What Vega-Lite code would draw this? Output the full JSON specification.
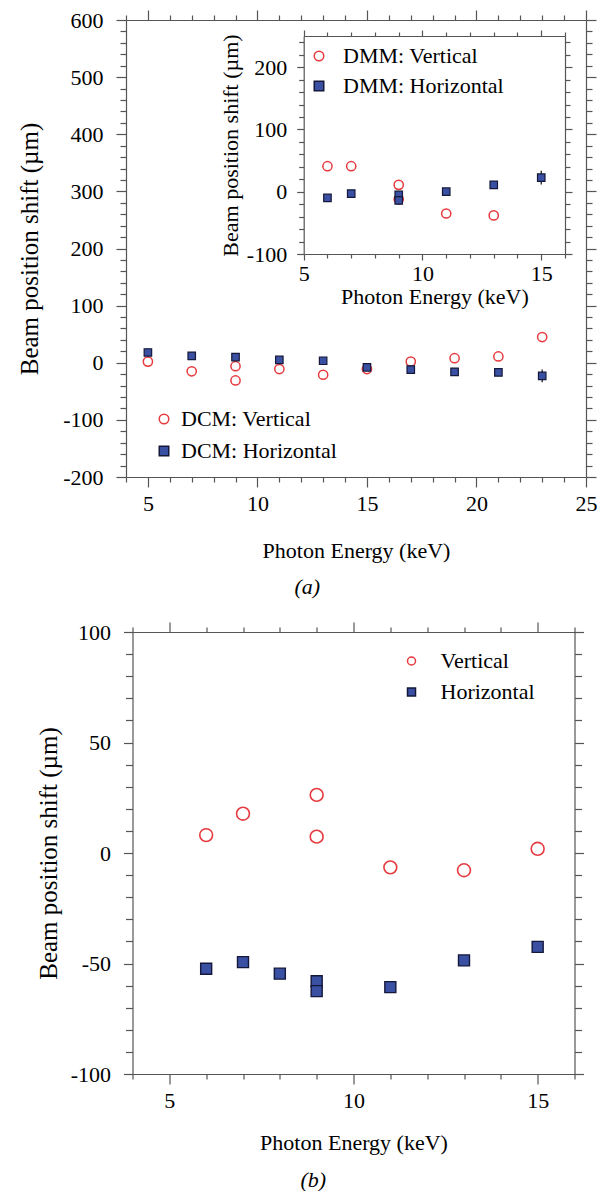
{
  "$schema": "https://vega.github.io/schema/vega-lite/v6.json",
  "padding": {"left": 17, "top": 9, "right": 5, "bottom": 0},
  "background": "white",
  "spacing": 23,
  "center": true,
  "resolve": {
    "scale": {"shape": "independent", "fill": "independent", "stroke": "independent"},
    "legend": {"shape": "independent", "fill": "independent", "stroke": "independent"}
  },
  "config": {
    "view": {"stroke": null},
    "font": "Liberation Serif",
    "axis": {"labelFont": "Liberation Serif", "labelFontSize": 22, "titleFont": "Liberation Serif", "titleFontSize": 22, "titleFontWeight": "normal", "labelColor": "#000", "titleColor": "#000", "domainColor": "#555", "tickColor": "#555", "domainWidth": 1.2, "tickWidth": 1.2, "grid": false, "labelFlush": false, "labelOverlap": false, "labelBound": false},
    "legend": {"labelFont": "Liberation Serif", "labelFontSize": 22, "labelColor": "#000", "symbolStrokeWidth": 1.5, "symbolOpacity": 1, "padding": 0, "labelLimit": 0},
    "title": {"font": "Liberation Serif", "fontSize": 22, "fontWeight": "normal", "color": "#000"}
  },
  "datasets": {
    "dcm": [
      {"E": 5, "v": 2, "s": "DCM: Vertical"},
      {"E": 7, "v": -15, "s": "DCM: Vertical"},
      {"E": 9, "v": -6, "s": "DCM: Vertical"},
      {"E": 9, "v": -31, "s": "DCM: Vertical"},
      {"E": 11, "v": -11, "s": "DCM: Vertical"},
      {"E": 13, "v": -21, "s": "DCM: Vertical"},
      {"E": 15, "v": -11, "s": "DCM: Vertical"},
      {"E": 17, "v": 2, "s": "DCM: Vertical"},
      {"E": 19, "v": 8, "s": "DCM: Vertical"},
      {"E": 21, "v": 11, "s": "DCM: Vertical"},
      {"E": 23, "v": 45, "s": "DCM: Vertical"},
      {"E": 5, "v": 18, "s": "DCM: Horizontal", "err": 7},
      {"E": 7, "v": 12, "s": "DCM: Horizontal"},
      {"E": 9, "v": 10, "s": "DCM: Horizontal"},
      {"E": 11, "v": 5, "s": "DCM: Horizontal"},
      {"E": 13, "v": 3.5, "s": "DCM: Horizontal"},
      {"E": 15, "v": -8, "s": "DCM: Horizontal"},
      {"E": 17, "v": -12, "s": "DCM: Horizontal"},
      {"E": 19, "v": -16, "s": "DCM: Horizontal"},
      {"E": 21, "v": -17, "s": "DCM: Horizontal"},
      {"E": 23, "v": -23, "s": "DCM: Horizontal", "err": 11}
    ],
    "dmm": [
      {"E": 6, "v": 41, "s": "DMM: Vertical"},
      {"E": 7, "v": 41, "s": "DMM: Vertical"},
      {"E": 9, "v": 11, "s": "DMM: Vertical"},
      {"E": 9, "v": -12, "s": "DMM: Vertical"},
      {"E": 11, "v": -35, "s": "DMM: Vertical"},
      {"E": 13, "v": -38, "s": "DMM: Vertical"},
      {"E": 6, "v": -10, "s": "DMM: Horizontal", "err": 5},
      {"E": 7, "v": -3, "s": "DMM: Horizontal"},
      {"E": 9, "v": -5, "s": "DMM: Horizontal"},
      {"E": 9, "v": -14, "s": "DMM: Horizontal", "err": 7},
      {"E": 11, "v": 0, "s": "DMM: Horizontal"},
      {"E": 13, "v": 11, "s": "DMM: Horizontal"},
      {"E": 15, "v": 22.5, "s": "DMM: Horizontal", "err": 11}
    ],
    "b": [
      {"E": 6, "v": 8.1, "s": "Vertical"},
      {"E": 7, "v": 17.8, "s": "Vertical"},
      {"E": 9, "v": 26.3, "s": "Vertical"},
      {"E": 9, "v": 7.4, "s": "Vertical"},
      {"E": 11, "v": -6.5, "s": "Vertical"},
      {"E": 13, "v": -7.8, "s": "Vertical"},
      {"E": 15, "v": 1.9, "s": "Vertical"},
      {"E": 6, "v": -52.4, "s": "Horizontal"},
      {"E": 7, "v": -49.4, "s": "Horizontal"},
      {"E": 8, "v": -54.6, "s": "Horizontal"},
      {"E": 9, "v": -58, "s": "Horizontal"},
      {"E": 9, "v": -62.5, "s": "Horizontal"},
      {"E": 11, "v": -60.7, "s": "Horizontal"},
      {"E": 13, "v": -48.6, "s": "Horizontal"},
      {"E": 15, "v": -42.5, "s": "Horizontal"}
    ]
  },
  "vconcat": [
    {
      "width": 460,
      "height": 457,
      "title": {"text": "(a)", "orient": "bottom", "anchor": "middle", "frame": "bounds", "fontStyle": "italic", "offset": 16},
      "layer": [
        {
          "data": {"name": "dcm"},
          "layer": [
            {
              "transform": [{"filter": "datum.err > 0"}],
              "mark": {"type": "errorbar", "color": "#222", "thickness": 1.3},
              "encoding": {
                "x": {"field": "E", "type": "quantitative", "scale": {"domain": [4, 25], "nice": false, "zero": false}, "axis": null},
                "y": {"field": "v", "type": "quantitative", "scale": {"domain": [-200, 600], "nice": false, "zero": false}, "axis": null},
                "yError": {"field": "err"}
              }
            },
            {
              "transform": [{"filter": {"field": "s", "equal": "DCM: Vertical"}}],
              "mark": {"type": "point", "filled": true, "opacity": 1, "size": 85, "strokeWidth": 1.5},
              "encoding": {
                "x": {"field": "E", "type": "quantitative", "scale": {"domain": [4, 25], "nice": false, "zero": false}, "axis": {"orient": "bottom", "values": [5, 10, 15, 20, 25], "tickSize": 10, "labelPadding": 6, "title": "Photon Energy (keV)", "titlePadding": 26}},
                "y": {"field": "v", "type": "quantitative", "scale": {"domain": [-200, 600], "nice": false, "zero": false}, "axis": {"orient": "left", "values": [-200, -100, 0, 100, 200, 300, 400, 500, 600], "tickSize": 10, "labelPadding": 13, "labelExpr": "datum.value", "title": "Beam position shift (µm)", "titleFontSize": 25, "titlePadding": 20}},
                "shape": {"field": "s", "type": "nominal", "scale": {"domain": ["DCM: Vertical", "DCM: Horizontal"], "range": ["circle", "square"]}, "legend": {"orient": "none", "legendX": 27, "legendY": 388, "title": null, "symbolSize": 90, "labelOffset": 6, "rowPadding": 10}},
                "fill": {"field": "s", "type": "nominal", "scale": {"domain": ["DCM: Vertical", "DCM: Horizontal"], "range": ["#ffffff", "#3a50a2"]}, "legend": {"orient": "none", "legendX": 27, "legendY": 388, "title": null, "symbolSize": 90, "labelOffset": 6, "rowPadding": 10}},
                "stroke": {"field": "s", "type": "nominal", "scale": {"domain": ["DCM: Vertical", "DCM: Horizontal"], "range": ["#e63a3f", "#15183a"]}, "legend": {"orient": "none", "legendX": 27, "legendY": 388, "title": null, "symbolSize": 90, "labelOffset": 6, "rowPadding": 10}}
              }
            },
            {
              "transform": [{"filter": {"field": "s", "equal": "DCM: Horizontal"}}],
              "mark": {"type": "point", "filled": true, "opacity": 1, "size": 56, "strokeWidth": 1.2},
              "encoding": {
                "x": {"field": "E", "type": "quantitative", "scale": {"domain": [4, 25], "nice": false, "zero": false}, "axis": {"orient": "top", "values": [5, 10, 15, 20, 25], "tickSize": 10, "labels": false, "title": null}},
                "y": {"field": "v", "type": "quantitative", "scale": {"domain": [-200, 600], "nice": false, "zero": false}, "axis": {"orient": "right", "values": [-200, -100, 0, 100, 200, 300, 400, 500, 600], "tickSize": 10, "labels": false, "title": null}},
                "shape": {"field": "s", "type": "nominal", "scale": {"domain": ["DCM: Vertical", "DCM: Horizontal"], "range": ["circle", "square"]}, "legend": {"orient": "none", "legendX": 27, "legendY": 388, "title": null, "symbolSize": 90, "labelOffset": 6, "rowPadding": 10}},
                "fill": {"field": "s", "type": "nominal", "scale": {"domain": ["DCM: Vertical", "DCM: Horizontal"], "range": ["#ffffff", "#3a50a2"]}, "legend": {"orient": "none", "legendX": 27, "legendY": 388, "title": null, "symbolSize": 90, "labelOffset": 6, "rowPadding": 10}},
                "stroke": {"field": "s", "type": "nominal", "scale": {"domain": ["DCM: Vertical", "DCM: Horizontal"], "range": ["#e63a3f", "#15183a"]}, "legend": {"orient": "none", "legendX": 27, "legendY": 388, "title": null, "symbolSize": 90, "labelOffset": 6, "rowPadding": 10}}
              }
            },
            {
              "mark": {"type": "point", "opacity": 0},
              "encoding": {
                "x": {"field": "E", "type": "quantitative", "scale": {"domain": [4, 25], "nice": false, "zero": false}, "axis": {"orient": "bottom", "values": [4, 6, 7, 8, 9, 11, 12, 13, 14, 16, 17, 18, 19, 21, 22, 23, 24], "tickSize": 5, "labels": false, "domain": false, "title": null}},
                "y": {"field": "v", "type": "quantitative", "scale": {"domain": [-200, 600], "nice": false, "zero": false}, "axis": {"orient": "left", "values": [-180, -160, -140, -120, -80, -60, -40, -20, 20, 40, 60, 80, 120, 140, 160, 180, 220, 240, 260, 280, 320, 340, 360, 380, 420, 440, 460, 480, 520, 540, 560, 580], "tickSize": 6, "labels": false, "domain": false, "title": null}}
              }
            },
            {
              "mark": {"type": "point", "opacity": 0},
              "encoding": {
                "x": {"field": "E", "type": "quantitative", "scale": {"domain": [4, 25], "nice": false, "zero": false}, "axis": {"orient": "top", "values": [4, 6, 7, 8, 9, 11, 12, 13, 14, 16, 17, 18, 19, 21, 22, 23, 24], "tickSize": 5, "labels": false, "domain": false, "title": null}},
                "y": {"field": "v", "type": "quantitative", "scale": {"domain": [-200, 600], "nice": false, "zero": false}, "axis": {"orient": "right", "values": [-180, -160, -140, -120, -80, -60, -40, -20, 20, 40, 60, 80, 120, 140, 160, 180, 220, 240, 260, 280, 320, 340, 360, 380, 420, 440, 460, 480, 520, 540, 560, 580], "tickSize": 6, "labels": false, "domain": false, "title": null}}
              }
            }
          ],
          "resolve": {"axis": {"x": "independent", "y": "independent"}}
        },
        {
          "data": {"name": "dmm"},
          "layer": [
            {
              "transform": [{"filter": "datum.err > 0"}],
              "mark": {"type": "errorbar", "color": "#222", "thickness": 1.3},
              "encoding": {
                "x": {"field": "E", "type": "quantitative", "scale": {"domain": [5, 16], "range": [177.7, 439], "nice": false, "zero": false}, "axis": null},
                "y": {"field": "v", "type": "quantitative", "scale": {"domain": [-100, 250], "range": [234, 16], "nice": false, "zero": false}, "axis": null},
                "yError": {"field": "err"}
              }
            },
            {
              "transform": [{"filter": {"field": "s", "equal": "DMM: Vertical"}}],
              "mark": {"type": "point", "filled": true, "opacity": 1, "size": 85, "strokeWidth": 1.5},
              "encoding": {
                "x": {"field": "E", "type": "quantitative", "scale": {"domain": [5, 16], "range": [177.7, 439], "nice": false, "zero": false}, "axis": {"orient": "bottom", "offset": -223, "values": [5, 10, 15], "tickSize": 6, "labelPadding": 3, "title": "Photon Energy (keV)", "titlePadding": 2}},
                "y": {"field": "v", "type": "quantitative", "scale": {"domain": [-100, 250], "range": [234, 16], "nice": false, "zero": false}, "axis": {"orient": "left", "offset": -177.7, "values": [-100, 0, 100, 200], "tickSize": 7, "labelPadding": 10, "labelExpr": "datum.value", "title": "Beam position shift (µm)", "titlePadding": 4}},
                "shape": {"field": "s", "type": "nominal", "scale": {"domain": ["DMM: Vertical", "DMM: Horizontal"], "range": ["circle", "square"]}, "legend": {"orient": "none", "legendX": 182, "legendY": 25, "title": null, "symbolSize": 90, "labelOffset": 13, "rowPadding": 8}},
                "fill": {"field": "s", "type": "nominal", "scale": {"domain": ["DMM: Vertical", "DMM: Horizontal"], "range": ["#ffffff", "#3a50a2"]}, "legend": {"orient": "none", "legendX": 182, "legendY": 25, "title": null, "symbolSize": 90, "labelOffset": 13, "rowPadding": 8}},
                "stroke": {"field": "s", "type": "nominal", "scale": {"domain": ["DMM: Vertical", "DMM: Horizontal"], "range": ["#e63a3f", "#15183a"]}, "legend": {"orient": "none", "legendX": 182, "legendY": 25, "title": null, "symbolSize": 90, "labelOffset": 13, "rowPadding": 8}}
              }
            },
            {
              "transform": [{"filter": {"field": "s", "equal": "DMM: Horizontal"}}],
              "mark": {"type": "point", "filled": true, "opacity": 1, "size": 56, "strokeWidth": 1.2},
              "encoding": {
                "x": {"field": "E", "type": "quantitative", "scale": {"domain": [5, 16], "range": [177.7, 439], "nice": false, "zero": false}, "axis": {"orient": "top", "offset": -16, "values": [5, 10, 15], "tickSize": 6, "labels": false, "title": null}},
                "y": {"field": "v", "type": "quantitative", "scale": {"domain": [-100, 250], "range": [234, 16], "nice": false, "zero": false}, "axis": {"orient": "right", "offset": -21, "values": [-100, 0, 100, 200], "tickSize": 7, "labels": false, "title": null}},
                "shape": {"field": "s", "type": "nominal", "scale": {"domain": ["DMM: Vertical", "DMM: Horizontal"], "range": ["circle", "square"]}, "legend": {"orient": "none", "legendX": 182, "legendY": 25, "title": null, "symbolSize": 90, "labelOffset": 13, "rowPadding": 8}},
                "fill": {"field": "s", "type": "nominal", "scale": {"domain": ["DMM: Vertical", "DMM: Horizontal"], "range": ["#ffffff", "#3a50a2"]}, "legend": {"orient": "none", "legendX": 182, "legendY": 25, "title": null, "symbolSize": 90, "labelOffset": 13, "rowPadding": 8}},
                "stroke": {"field": "s", "type": "nominal", "scale": {"domain": ["DMM: Vertical", "DMM: Horizontal"], "range": ["#e63a3f", "#15183a"]}, "legend": {"orient": "none", "legendX": 182, "legendY": 25, "title": null, "symbolSize": 90, "labelOffset": 13, "rowPadding": 8}}
              }
            },
            {
              "mark": {"type": "point", "opacity": 0},
              "encoding": {
                "x": {"field": "E", "type": "quantitative", "scale": {"domain": [5, 16], "range": [177.7, 439], "nice": false, "zero": false}, "axis": {"orient": "bottom", "offset": -223, "values": [6, 7, 8, 9, 11, 12, 13, 14, 16], "tickSize": 4, "labels": false, "domain": false, "title": null}},
                "y": {"field": "v", "type": "quantitative", "scale": {"domain": [-100, 250], "range": [234, 16], "nice": false, "zero": false}, "axis": {"orient": "left", "offset": -177.7, "values": [-80, -60, -40, -20, 20, 40, 60, 80, 120, 140, 160, 180, 220, 240], "tickSize": 5, "labels": false, "domain": false, "title": null}}
              }
            },
            {
              "mark": {"type": "point", "opacity": 0},
              "encoding": {
                "x": {"field": "E", "type": "quantitative", "scale": {"domain": [5, 16], "range": [177.7, 439], "nice": false, "zero": false}, "axis": {"orient": "top", "offset": -16, "values": [6, 7, 8, 9, 11, 12, 13, 14, 16], "tickSize": 4, "labels": false, "domain": false, "title": null}},
                "y": {"field": "v", "type": "quantitative", "scale": {"domain": [-100, 250], "range": [234, 16], "nice": false, "zero": false}, "axis": {"orient": "right", "offset": -21, "values": [-80, -60, -40, -20, 20, 40, 60, 80, 120, 140, 160, 180, 220, 240], "tickSize": 5, "labels": false, "domain": false, "title": null}}
              }
            }
          ],
          "resolve": {"axis": {"x": "independent", "y": "independent"}}
        }
      ],
      "resolve": {
        "scale": {"x": "independent", "y": "independent", "shape": "independent", "fill": "independent", "stroke": "independent"},
        "axis": {"x": "independent", "y": "independent"},
        "legend": {"shape": "independent", "fill": "independent", "stroke": "independent"}
      }
    },
    {
      "width": 442,
      "height": 442,
      "title": {"text": "(b)", "orient": "bottom", "anchor": "middle", "frame": "bounds", "fontStyle": "italic", "offset": 17},
      "data": {"name": "b"},
      "layer": [
        {
          "transform": [{"filter": {"field": "s", "equal": "Vertical"}}],
          "mark": {"type": "point", "filled": true, "opacity": 1, "size": 165, "strokeWidth": 1.6},
          "encoding": {
            "x": {"field": "E", "type": "quantitative", "scale": {"domain": [4, 16], "nice": false, "zero": false}, "axis": {"orient": "bottom", "values": [5, 10, 15], "tickSize": 10, "labelPadding": 6, "title": "Photon Energy (keV)", "titlePadding": 21}},
            "y": {"field": "v", "type": "quantitative", "scale": {"domain": [-100, 100], "nice": false, "zero": false}, "axis": {"orient": "left", "values": [-100, -50, 0, 50, 100], "tickSize": 9, "labelPadding": 13, "labelExpr": "datum.value", "title": "Beam position shift (µm)", "titleFontSize": 25, "titlePadding": 9}},
            "shape": {"field": "s", "type": "nominal", "scale": {"domain": ["Vertical", "Horizontal"], "range": ["circle", "square"]}, "legend": {"orient": "none", "legendX": 268, "legendY": 18, "title": null, "symbolSize": 64, "labelOffset": 18, "rowPadding": 9}},
            "fill": {"field": "s", "type": "nominal", "scale": {"domain": ["Vertical", "Horizontal"], "range": ["#ffffff", "#3a50a2"]}, "legend": {"orient": "none", "legendX": 268, "legendY": 18, "title": null, "symbolSize": 64, "labelOffset": 18, "rowPadding": 9}},
            "stroke": {"field": "s", "type": "nominal", "scale": {"domain": ["Vertical", "Horizontal"], "range": ["#e63a3f", "#15183a"]}, "legend": {"orient": "none", "legendX": 268, "legendY": 18, "title": null, "symbolSize": 64, "labelOffset": 18, "rowPadding": 9}}
          }
        },
        {
          "transform": [{"filter": {"field": "s", "equal": "Horizontal"}}],
          "mark": {"type": "point", "filled": true, "opacity": 1, "size": 121, "strokeWidth": 1.4},
          "encoding": {
            "x": {"field": "E", "type": "quantitative", "scale": {"domain": [4, 16], "nice": false, "zero": false}, "axis": {"orient": "top", "values": [5, 10, 15], "tickSize": 10, "labels": false, "title": null}},
            "y": {"field": "v", "type": "quantitative", "scale": {"domain": [-100, 100], "nice": false, "zero": false}, "axis": {"orient": "right", "values": [-100, -50, 0, 50, 100], "tickSize": 9, "labels": false, "title": null}},
            "shape": {"field": "s", "type": "nominal", "scale": {"domain": ["Vertical", "Horizontal"], "range": ["circle", "square"]}, "legend": {"orient": "none", "legendX": 268, "legendY": 18, "title": null, "symbolSize": 64, "labelOffset": 18, "rowPadding": 9}},
            "fill": {"field": "s", "type": "nominal", "scale": {"domain": ["Vertical", "Horizontal"], "range": ["#ffffff", "#3a50a2"]}, "legend": {"orient": "none", "legendX": 268, "legendY": 18, "title": null, "symbolSize": 64, "labelOffset": 18, "rowPadding": 9}},
            "stroke": {"field": "s", "type": "nominal", "scale": {"domain": ["Vertical", "Horizontal"], "range": ["#e63a3f", "#15183a"]}, "legend": {"orient": "none", "legendX": 268, "legendY": 18, "title": null, "symbolSize": 64, "labelOffset": 18, "rowPadding": 9}}
          }
        },
        {
          "mark": {"type": "point", "opacity": 0},
          "encoding": {
            "x": {"field": "E", "type": "quantitative", "scale": {"domain": [4, 16], "nice": false, "zero": false}, "axis": {"orient": "bottom", "values": [4, 6, 7, 8, 9, 11, 12, 13, 14, 16], "tickSize": 5, "labels": false, "domain": false, "title": null}},
            "y": {"field": "v", "type": "quantitative", "scale": {"domain": [-100, 100], "nice": false, "zero": false}, "axis": {"orient": "left", "values": [-90, -80, -70, -60, -40, -30, -20, -10, 10, 20, 30, 40, 60, 70, 80, 90], "tickSize": 7, "labels": false, "domain": false, "title": null}}
          }
        },
        {
          "mark": {"type": "point", "opacity": 0},
          "encoding": {
            "x": {"field": "E", "type": "quantitative", "scale": {"domain": [4, 16], "nice": false, "zero": false}, "axis": {"orient": "top", "values": [4, 6, 7, 8, 9, 11, 12, 13, 14, 16], "tickSize": 5, "labels": false, "domain": false, "title": null}},
            "y": {"field": "v", "type": "quantitative", "scale": {"domain": [-100, 100], "nice": false, "zero": false}, "axis": {"orient": "right", "values": [-90, -80, -70, -60, -40, -30, -20, -10, 10, 20, 30, 40, 60, 70, 80, 90], "tickSize": 7, "labels": false, "domain": false, "title": null}}
          }
        },
        {
          "mark": {"type": "point", "opacity": 0},
          "encoding": {
            "x": {"field": "E", "type": "quantitative", "scale": {"domain": [4, 16], "nice": false, "zero": false}, "axis": null},
            "y": {"field": "v", "type": "quantitative", "scale": {"domain": [-100, 100], "nice": false, "zero": false}, "axis": {"orient": "right", "values": [0], "tickSize": 16, "tickOpacity": 0, "labels": false, "domain": false, "title": null}}
          }
        }
      ],
      "resolve": {"axis": {"x": "independent", "y": "independent"}}
    }
  ]
}
